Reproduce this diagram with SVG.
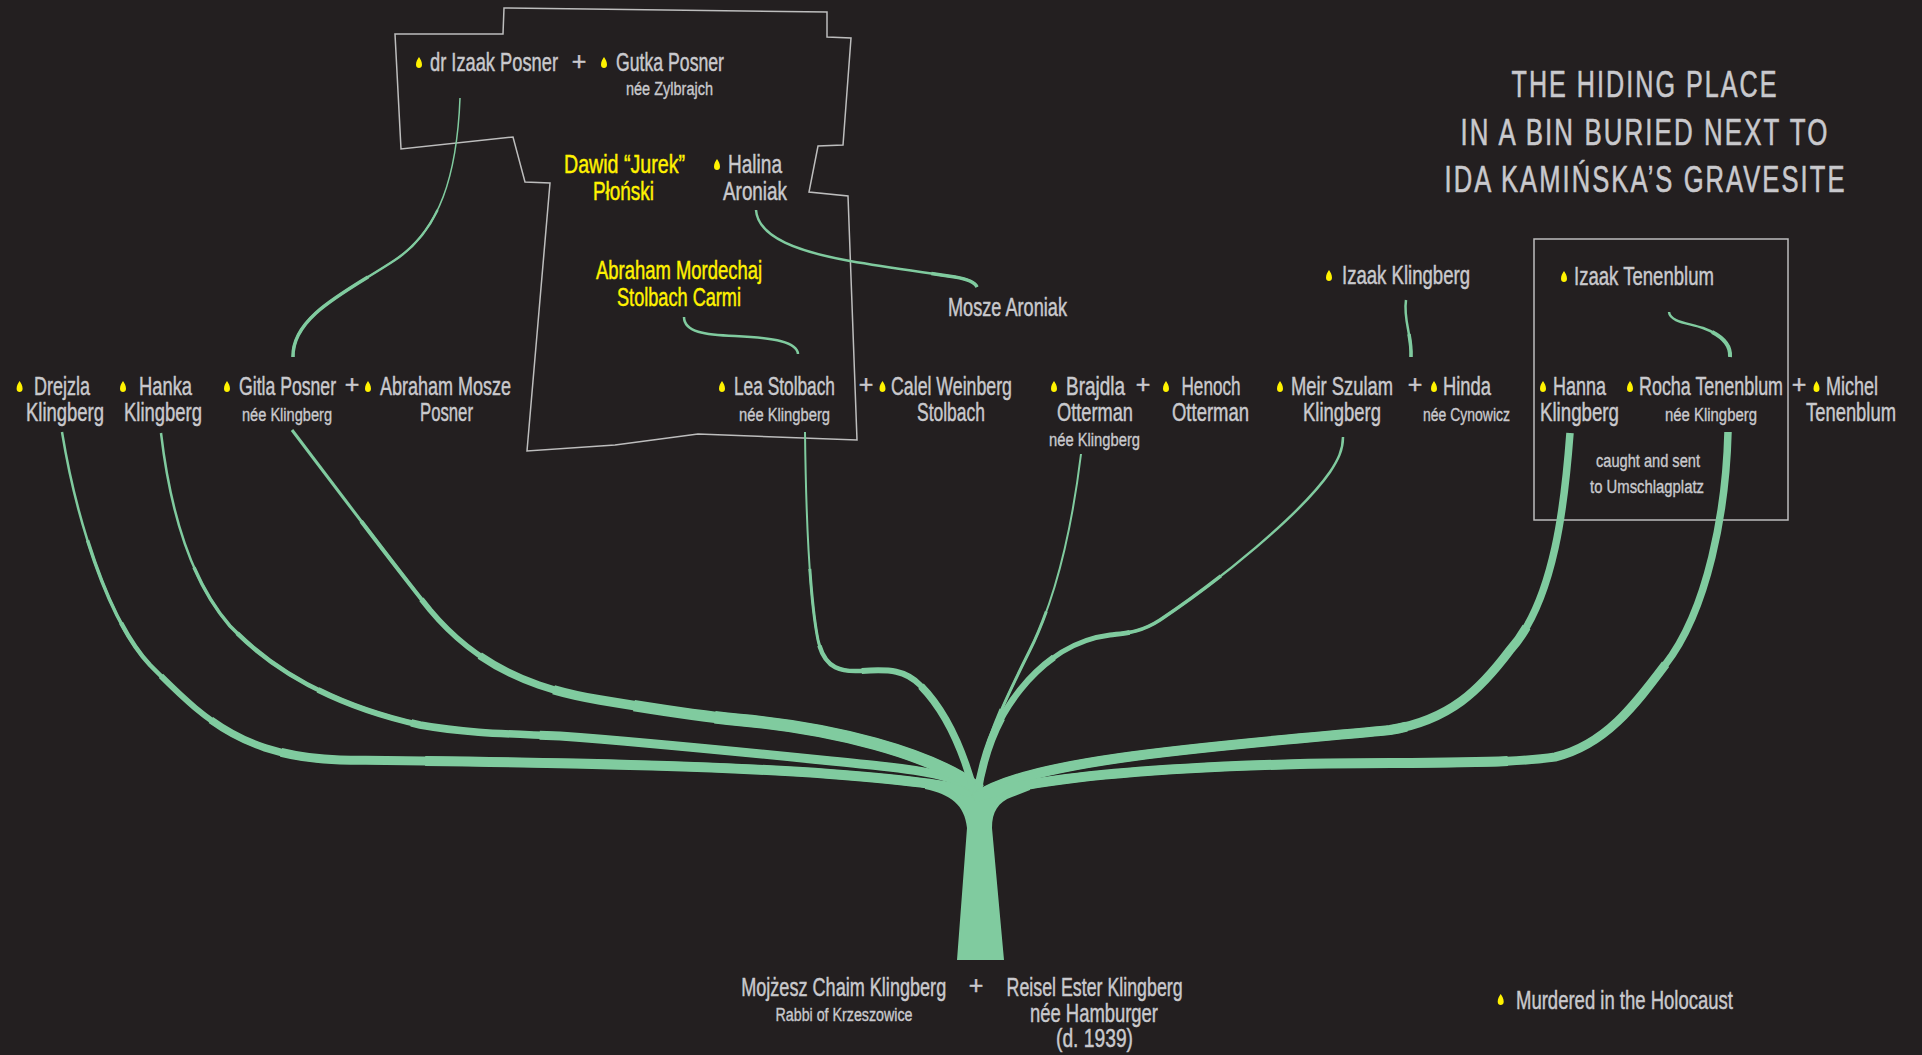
<svg xmlns="http://www.w3.org/2000/svg" xmlns:xlink="http://www.w3.org/1999/xlink" width="1922" height="1055" viewBox="0 0 1922 1055">
<style>
.t{font-family:"Liberation Sans Narrow","Liberation Sans",Arial,sans-serif;fill:#c9c9cd;stroke:#c9c9cd;stroke-width:0.45px;font-size:25px;text-anchor:middle}
.s{font-size:18px;stroke-width:0.35px}
.y{fill:#fff200;stroke:#fff200}
.st{text-anchor:start}
.ttl{font-size:37px;letter-spacing:3px;stroke-width:0.6px}
.br{fill:none;stroke:#80cb9f;stroke-linecap:butt}
.outline{fill:none;stroke:#bdbdbd;stroke-width:1.5;stroke-linejoin:miter}
</style>
<defs>
<path id="drop" d="M0,-6 C1.5,-3.5 3,-1.5 3,1.8 C3,3.9 1.6,5 0,5 C-1.6,5 -3,3.9 -3,1.8 C-3,-1.5 -1.5,-3.5 0,-6 Z" fill="#fff200"/>
<path id="bD" pathLength="100" d="M62,432 C78,530 112,625 150,665 C200,715 240,757 340,760 C500,762 700,764 830,774 C920,781 955,786 980,795"/>
<path id="bH" pathLength="100" d="M161,433 C170,510 190,580 230,626 C270,668 330,705 420,725 C470,734 520,734 560,736 C680,745 800,758 880,766 C930,771 960,778 980,792"/>
<path id="bG" pathLength="100" d="M292,430 C330,480 390,560 430,610 C480,670 540,690 600,700 C660,710 700,716 740,720 C830,728 930,752 980,790"/>
<path id="bL" pathLength="100" d="M805,432 C806,520 810,600 818,640 C824,668 840,672 860,671 C890,669 905,670 920,685 C945,710 962,745 975,795"/>
<path id="bB" pathLength="100" d="M1081,454 C1068,560 1045,620 1030,650 C1005,700 985,740 976,795"/>
<path id="bM" pathLength="100" d="M1343,437 C1343,450 1338,460 1330,472 C1300,515 1220,580 1160,620 C1140,633 1125,633 1110,635 C1070,640 1040,665 1020,690 C1000,715 985,745 977,795"/>
<path id="bN" pathLength="100" d="M1570,433 C1565,500 1555,600 1510,650 C1480,690 1450,720 1390,730 C1330,736 1200,746 1120,758 C1050,768 1000,780 974,798"/>
<path id="bR" pathLength="100" d="M1728,432 C1726,510 1708,610 1665,665 C1635,705 1605,745 1555,757 C1500,765 1400,762 1300,764 C1150,768 1030,778 974,798"/>
<path id="cP" pathLength="100" d="M460,98 C457,175 440,230 395,260 C350,290 292,315 293,357"/>
<path id="cA" pathLength="100" d="M756,210 C758,238 800,252 850,261 C890,268 930,273 955,277 C967,279 975,282 977,287"/>
<path id="cS" pathLength="100" d="M684,317 C684,332 705,335 735,336 C775,338 797,342 798,354"/>
<path id="cK" pathLength="100" d="M1406,300 C1403,320 1412,335 1411,357"/>
<path id="cT" pathLength="100" d="M1669,312 C1670,322 1688,323 1703,328 C1722,335 1731,345 1730,357"/>
</defs>
<rect width="1922" height="1055" fill="#231f20"/>

<g id="hiding-place-outline">
<polygon class="outline" points="504,8 827,12 827,37 851,38 843,145 818,146 809,192 848,196 857,440 698,434 615,445 527,451 550,183 525,182 513,137 401,149 395,34 503,34"/>
</g>
<g id="tenenblum-box">
<rect class="outline" x="1534" y="239" width="254" height="281"/>
</g>

<g id="connectors" class="br">
<path fill="#80cb9f" stroke="none" d="M957,960 L1004,960 L992,828 C992,812 998,802 1012,797 L1030,790 L1030,785 L978,789 L925,785 L925,789 C950,794 965,805 967,828 Z"/>
<use href="#bD" stroke-width="2.5"/>
<use href="#bD" stroke-width="3.5" stroke-dasharray="0 10 100"/>
<use href="#bD" stroke-width="4.5" stroke-dasharray="0 18 100"/>
<use href="#bD" stroke-width="6" stroke-dasharray="0 24 100"/>
<use href="#bD" stroke-width="7.5" stroke-dasharray="0 30 100"/>
<use href="#bD" stroke-width="9" stroke-dasharray="0 37 100"/>
<use href="#bD" stroke-width="10" stroke-dasharray="0 50 100"/>

<use href="#bH" stroke-width="2.5"/>
<use href="#bH" stroke-width="3.5" stroke-dasharray="0 14 100"/>
<use href="#bH" stroke-width="4.5" stroke-dasharray="0 22 100"/>
<use href="#bH" stroke-width="6" stroke-dasharray="0 32 100"/>
<use href="#bH" stroke-width="7.5" stroke-dasharray="0 42 100"/>
<use href="#bH" stroke-width="9" stroke-dasharray="0 55 100"/>

<use href="#bG" stroke-width="3"/>
<use href="#bG" stroke-width="4" stroke-dasharray="0 14 100"/>
<use href="#bG" stroke-width="5.5" stroke-dasharray="0 26 100"/>
<use href="#bG" stroke-width="7.5" stroke-dasharray="0 36 100"/>
<use href="#bG" stroke-width="9.5" stroke-dasharray="0 46 100"/>
<use href="#bG" stroke-width="11.5" stroke-dasharray="0 56 100"/>
<use href="#bG" stroke-width="12.5" stroke-dasharray="0 66 100"/>

<use href="#bL" stroke-width="2"/>
<use href="#bL" stroke-width="3" stroke-dasharray="0 30 100"/>
<use href="#bL" stroke-width="4.5" stroke-dasharray="0 47 100"/>
<use href="#bL" stroke-width="6" stroke-dasharray="0 59 100"/>
<use href="#bL" stroke-width="7.5" stroke-dasharray="0 73 100"/>

<use href="#bB" stroke-width="2"/>
<use href="#bB" stroke-width="3" stroke-dasharray="0 45 100"/>
<use href="#bB" stroke-width="4.5" stroke-dasharray="0 75 100"/>

<use href="#bM" stroke-width="2.5"/>
<use href="#bM" stroke-width="3.5" stroke-dasharray="0 35 100"/>
<use href="#bM" stroke-width="5" stroke-dasharray="0 55 100"/>
<use href="#bM" stroke-width="6.5" stroke-dasharray="0 70 100"/>
<use href="#bM" stroke-width="8" stroke-dasharray="0 85 100"/>

<use href="#bN" stroke-width="7.5"/>
<use href="#bN" stroke-width="9" stroke-dasharray="0 25 100"/>
<use href="#bN" stroke-width="10" stroke-dasharray="0 45 100"/>

<use href="#bR" stroke-width="7.5"/>
<use href="#bR" stroke-width="9" stroke-dasharray="0 25 100"/>
<use href="#bR" stroke-width="10" stroke-dasharray="0 45 100"/>

<use href="#cP" stroke-width="1.5"/>
<use href="#cP" stroke-width="2.5" stroke-dasharray="0 35 100"/>
<use href="#cP" stroke-width="3.5" stroke-dasharray="0 65 100"/>
<use href="#cA" stroke-width="2.5"/>
<use href="#cA" stroke-width="3.5" stroke-dasharray="0 80 100"/>
<use href="#cS" stroke-width="2.5"/>
<use href="#cK" stroke-width="2.5"/>
<use href="#cK" stroke-width="3.5" stroke-dasharray="0 60 100"/>
<use href="#cT" stroke-width="2.5"/>
<use href="#cT" stroke-width="4" stroke-dasharray="0 60 100"/>
</g>

<g id="title">
<text class="t ttl" x="1645" y="97" textLength="267" lengthAdjust="spacingAndGlyphs">THE HIDING PLACE</text>
<text class="t ttl" x="1645" y="145" textLength="369" lengthAdjust="spacingAndGlyphs">IN A BIN BURIED NEXT TO</text>
<text class="t ttl" x="1645.5" y="192" textLength="402" lengthAdjust="spacingAndGlyphs">IDA KAMIŃSKA’S GRAVESITE</text>
</g>

<g id="node-izaak-posner">
<use href="#drop" x="419" y="63"/>
<text class="t" x="494" y="71" textLength="128" lengthAdjust="spacingAndGlyphs">dr Izaak Posner</text>
</g>
<text class="t" x="579" y="70">+</text>
<g id="node-gutka-posner">
<use href="#drop" x="604" y="63"/>
<text class="t" x="670" y="71" textLength="108" lengthAdjust="spacingAndGlyphs">Gutka Posner</text>
<text class="t s" x="669.5" y="95" textLength="87" lengthAdjust="spacingAndGlyphs">née Zylbrajch</text>
</g>
<g id="node-dawid-plonski">
<text class="t y" x="624.5" y="173" textLength="121" lengthAdjust="spacingAndGlyphs">Dawid “Jurek”</text>
<text class="t y" x="623.5" y="200" textLength="61" lengthAdjust="spacingAndGlyphs">Płoński</text>
</g>
<g id="node-halina-aroniak">
<use href="#drop" x="717" y="165"/>
<text class="t" x="755" y="173" textLength="54" lengthAdjust="spacingAndGlyphs">Halina</text>
<text class="t" x="755" y="200" textLength="64" lengthAdjust="spacingAndGlyphs">Aroniak</text>
</g>
<g id="node-abraham-carmi">
<text class="t y" x="679" y="279" textLength="166" lengthAdjust="spacingAndGlyphs">Abraham Mordechaj</text>
<text class="t y" x="679" y="306" textLength="124" lengthAdjust="spacingAndGlyphs">Stolbach Carmi</text>
</g>
<g id="node-mosze-aroniak">
<text class="t" x="1007.5" y="316" textLength="119" lengthAdjust="spacingAndGlyphs">Mosze Aroniak</text>
</g>
<g id="node-izaak-klingberg">
<use href="#drop" x="1329" y="276"/>
<text class="t" x="1406" y="284" textLength="128" lengthAdjust="spacingAndGlyphs">Izaak Klingberg</text>
</g>
<g id="node-izaak-tenenblum">
<use href="#drop" x="1564" y="277"/>
<text class="t" x="1644" y="285" textLength="140" lengthAdjust="spacingAndGlyphs">Izaak Tenenblum</text>
</g>

<g id="node-drejzla">
<use href="#drop" x="19.6" y="387"/>
<text class="t" x="62" y="395" textLength="56" lengthAdjust="spacingAndGlyphs">Drejzla</text>
<text class="t" x="65" y="421" textLength="78" lengthAdjust="spacingAndGlyphs">Klingberg</text>
</g>
<g id="node-hanka">
<use href="#drop" x="123" y="387"/>
<text class="t" x="165.5" y="395" textLength="53" lengthAdjust="spacingAndGlyphs">Hanka</text>
<text class="t" x="163" y="421" textLength="78" lengthAdjust="spacingAndGlyphs">Klingberg</text>
</g>
<g id="node-gitla">
<use href="#drop" x="227" y="387"/>
<text class="t" x="287.5" y="395" textLength="97" lengthAdjust="spacingAndGlyphs">Gitla Posner</text>
<text class="t s" x="287" y="421" textLength="90" lengthAdjust="spacingAndGlyphs">née Klingberg</text>
</g>
<text class="t" x="352" y="393">+</text>
<g id="node-abraham-mosze">
<use href="#drop" x="368" y="387"/>
<text class="t" x="445.5" y="395" textLength="131" lengthAdjust="spacingAndGlyphs">Abraham Mosze</text>
<text class="t" x="446.5" y="421" textLength="53" lengthAdjust="spacingAndGlyphs">Posner</text>
</g>
<g id="node-lea">
<use href="#drop" x="722" y="387"/>
<text class="t" x="784.5" y="395" textLength="101" lengthAdjust="spacingAndGlyphs">Lea Stolbach</text>
<text class="t s" x="784.5" y="421" textLength="91" lengthAdjust="spacingAndGlyphs">née Klingberg</text>
</g>
<text class="t" x="866" y="393">+</text>
<g id="node-calel">
<use href="#drop" x="882.5" y="387"/>
<text class="t" x="951.5" y="395" textLength="121" lengthAdjust="spacingAndGlyphs">Calel Weinberg</text>
<text class="t" x="951" y="421" textLength="68" lengthAdjust="spacingAndGlyphs">Stolbach</text>
</g>
<g id="node-brajdla">
<use href="#drop" x="1054" y="387"/>
<text class="t" x="1095.5" y="395" textLength="59" lengthAdjust="spacingAndGlyphs">Brajdla</text>
<text class="t" x="1095" y="421" textLength="76" lengthAdjust="spacingAndGlyphs">Otterman</text>
<text class="t s" x="1094.5" y="446" textLength="91" lengthAdjust="spacingAndGlyphs">née Klingberg</text>
</g>
<text class="t" x="1143" y="393">+</text>
<g id="node-henoch">
<use href="#drop" x="1166" y="387"/>
<text class="t" x="1211" y="395" textLength="59" lengthAdjust="spacingAndGlyphs">Henoch</text>
<text class="t" x="1210.5" y="421" textLength="77" lengthAdjust="spacingAndGlyphs">Otterman</text>
</g>
<g id="node-meir">
<use href="#drop" x="1280" y="387"/>
<text class="t" x="1342" y="395" textLength="102" lengthAdjust="spacingAndGlyphs">Meir Szulam</text>
<text class="t" x="1342" y="421" textLength="78" lengthAdjust="spacingAndGlyphs">Klingberg</text>
</g>
<text class="t" x="1415" y="393">+</text>
<g id="node-hinda">
<use href="#drop" x="1434" y="387"/>
<text class="t" x="1467" y="395" textLength="48" lengthAdjust="spacingAndGlyphs">Hinda</text>
<text class="t s" x="1466.5" y="421" textLength="87" lengthAdjust="spacingAndGlyphs">née Cynowicz</text>
</g>
<g id="node-hanna">
<use href="#drop" x="1543" y="387"/>
<text class="t" x="1579.5" y="395" textLength="53" lengthAdjust="spacingAndGlyphs">Hanna</text>
<text class="t" x="1579.5" y="421" textLength="79" lengthAdjust="spacingAndGlyphs">Klingberg</text>
</g>
<g id="node-rocha">
<use href="#drop" x="1630" y="387"/>
<text class="t" x="1711" y="395" textLength="144" lengthAdjust="spacingAndGlyphs">Rocha Tenenblum</text>
<text class="t s" x="1711" y="421" textLength="92" lengthAdjust="spacingAndGlyphs">née Klingberg</text>
</g>
<text class="t" x="1799" y="393">+</text>
<g id="node-michel">
<use href="#drop" x="1816.5" y="387"/>
<text class="t" x="1852" y="395" textLength="52" lengthAdjust="spacingAndGlyphs">Michel</text>
<text class="t" x="1851" y="421" textLength="90" lengthAdjust="spacingAndGlyphs">Tenenblum</text>
</g>
<g id="note-umschlagplatz">
<text class="t s" x="1648" y="467" textLength="104" lengthAdjust="spacingAndGlyphs">caught and sent</text>
<text class="t s" x="1647" y="493" textLength="114" lengthAdjust="spacingAndGlyphs">to Umschlagplatz</text>
</g>

<g id="node-mojzesz">
<text class="t" x="843.7" y="996" textLength="205" lengthAdjust="spacingAndGlyphs">Mojżesz Chaim Klingberg</text>
<text class="t s" x="844" y="1021" textLength="137" lengthAdjust="spacingAndGlyphs">Rabbi of Krzeszowice</text>
</g>
<text class="t" x="976" y="994">+</text>
<g id="node-reisel">
<text class="t" x="1094.6" y="996" textLength="176" lengthAdjust="spacingAndGlyphs">Reisel Ester Klingberg</text>
<text class="t" x="1094" y="1022" textLength="128" lengthAdjust="spacingAndGlyphs">née Hamburger</text>
<text class="t" x="1094.5" y="1047" textLength="77" lengthAdjust="spacingAndGlyphs">(d. 1939)</text>
</g>

<g id="legend">
<use href="#drop" x="1500.7" y="1000"/>
<text class="t st" x="1516" y="1009" textLength="217" lengthAdjust="spacingAndGlyphs">Murdered in the Holocaust</text>
</g>
</svg>
